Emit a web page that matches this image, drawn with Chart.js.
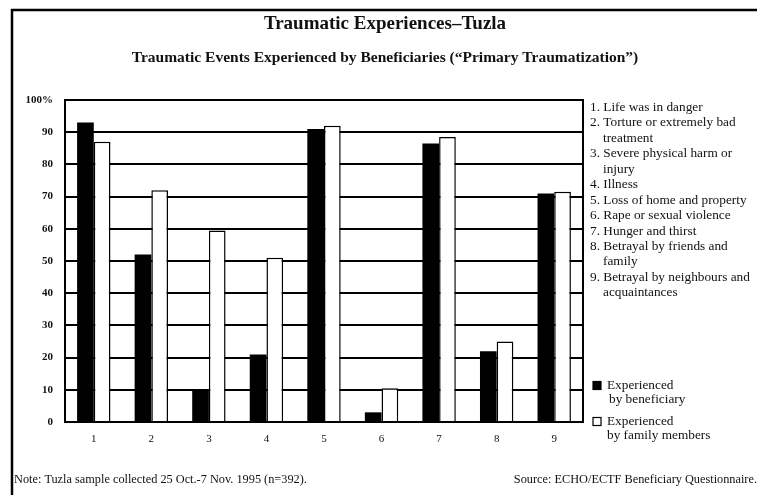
<!DOCTYPE html>
<html>
<head>
<meta charset="utf-8">
<script src="https://cdn.jsdelivr.net/npm/chart.js@4/dist/chart.umd.min.js"></script>
<style>
  body { margin: 0; background: #fff; }
  #wrap { width: 762px; height: 495px; }
</style>
</head>
<body>
<div id="wrap"><canvas id="trauma-chart" width="762" height="495"></canvas></div>
<script>
// Categorie e valori
const categories = ['1', '2', '3', '4', '5', '6', '7', '8', '9'];
const beneficiary = [93, 52, 10, 21, 91, 3, 86.5, 22, 71];
const familyMembers = [87, 72, 59.5, 51, 92, 10.5, 88.5, 25, 71.5];
const yTicks = [0, 10, 20, 30, 40, 50, 60, 70, 80, 90, 100];

const eventLabels = [
  ['1. Life was in danger'],
  ['2. Torture or extremely bad', 'treatment'],
  ['3. Severe physical harm or', 'injury'],
  ['4. Illness'],
  ['5. Loss of home and property'],
  ['6. Rape or sexual violence'],
  ['7. Hunger and thirst'],
  ['8. Betrayal by friends and', 'family'],
  ['9. Betrayal by neighbours and', 'acquaintances']
];
const seriesLabels = [
  ['Experienced', 'by beneficiary'],
  ['Experienced', 'by family members']
];
const title = 'Traumatic Experiences\u2013Tuzla';
const subtitle = 'Traumatic Events Experienced by Beneficiaries (\u201CPrimary Traumatization\u201D)';
const note = 'Note: Tuzla sample collected 25 Oct.-7 Nov. 1995 (n=392).';
const source = 'Source: ECHO/ECTF Beneficiary Questionnaire.';

const serif = '"Liberation Serif", "DejaVu Serif", serif';

// Plugin per cornice, titoli, legenda e note
const decorations = {
  id: 'decorations',
  afterDraw(chart) {
    const ctx = chart.ctx;
    const area = chart.chartArea;
    ctx.save();
    ctx.strokeStyle = '#000';
    ctx.fillStyle = '#111';

    // cornice esterna
    ctx.lineWidth = 2.5;
    ctx.beginPath();
    ctx.moveTo(12, 495);
    ctx.lineTo(12, 10);
    ctx.lineTo(757, 10);
    ctx.stroke();

    // bordo area grafico
    ctx.lineWidth = 2;
    ctx.strokeRect(area.left, area.top, area.right - area.left, area.bottom - area.top);

    // titoli
    ctx.textAlign = 'center';
    ctx.textBaseline = 'middle';
    ctx.font = 'bold 19px ' + serif;
    ctx.fillText(title, 385, 24);
    ctx.font = 'bold 15.5px ' + serif;
    ctx.fillText(subtitle, 385, 58);

    // elenco eventi
    ctx.textAlign = 'left';
    ctx.font = '13.3px ' + serif;
    let y = 107.5;
    eventLabels.forEach(function (lines) {
      lines.forEach(function (line, i) {
        ctx.fillText(line, i === 0 ? 590 : 603, y);
        y += 15.45;
      });
    });

    // legenda serie
    const markers = [{ y: 385.5, fill: '#000' }, { y: 421.5, fill: '#fff' }];
    markers.forEach(function (m, i) {
      ctx.fillStyle = m.fill;
      ctx.fillRect(593, m.y - 4, 8, 8);
      ctx.lineWidth = 1.2;
      ctx.strokeRect(593, m.y - 4, 8, 8);
      ctx.fillStyle = '#111';
      ctx.fillText(seriesLabels[i][0], 607, m.y);
      ctx.fillText(seriesLabels[i][1], i === 0 ? 609 : 607, m.y + 14);
    });

    // note in basso
    ctx.font = '12.3px ' + serif;
    ctx.fillText(note, 14, 480);
    ctx.textAlign = 'right';
    ctx.fillText(source, 757, 480);
    ctx.restore();
  }
};

new Chart(document.getElementById('trauma-chart').getContext('2d'), {
  type: 'bar',
  data: {
    labels: categories,
    datasets: [{
      label: seriesLabels[0].join(' '),
      data: beneficiary,
      backgroundColor: '#000',
      borderWidth: 0,
      barPercentage: 1,
      categoryPercentage: 0.58
    }, {
      label: seriesLabels[1].join(' '),
      data: familyMembers,
      backgroundColor: '#fff',
      borderColor: '#000',
      borderWidth: 1.5,
      barPercentage: 1,
      categoryPercentage: 0.58
    }]
  },
  options: {
    responsive: false,
    animation: false,
    layout: { padding: { left: 20, top: 100, right: 179, bottom: 43 } },
    plugins: {
      legend: { display: false },
      title: { display: false },
      tooltip: { enabled: false }
    },
    scales: {
      x: {
        grid: { display: false },
        border: { display: true, color: '#000', width: 2 },
        ticks: { color: '#111', font: { family: serif, size: 11 }, padding: 3 },
        afterFit: function (scale) { scale.height = 30; }
      },
      y: {
        min: 0,
        max: 100,
        afterBuildTicks: function (scale) {
          scale.ticks = yTicks.map(function (v) { return { value: v }; });
        },
        grid: { color: '#000', lineWidth: 2, drawTicks: false },
        border: { display: true, color: '#000', width: 2 },
        ticks: {
          color: '#111',
          font: { family: serif, size: 11, weight: 'bold' },
          padding: 12,
          callback: function (v) { return v === 100 ? '100%' : v; }
        },
        afterFit: function (scale) { scale.width = 45; }
      }
    }
  },
  plugins: [decorations]
});
</script>
</body>
</html>
